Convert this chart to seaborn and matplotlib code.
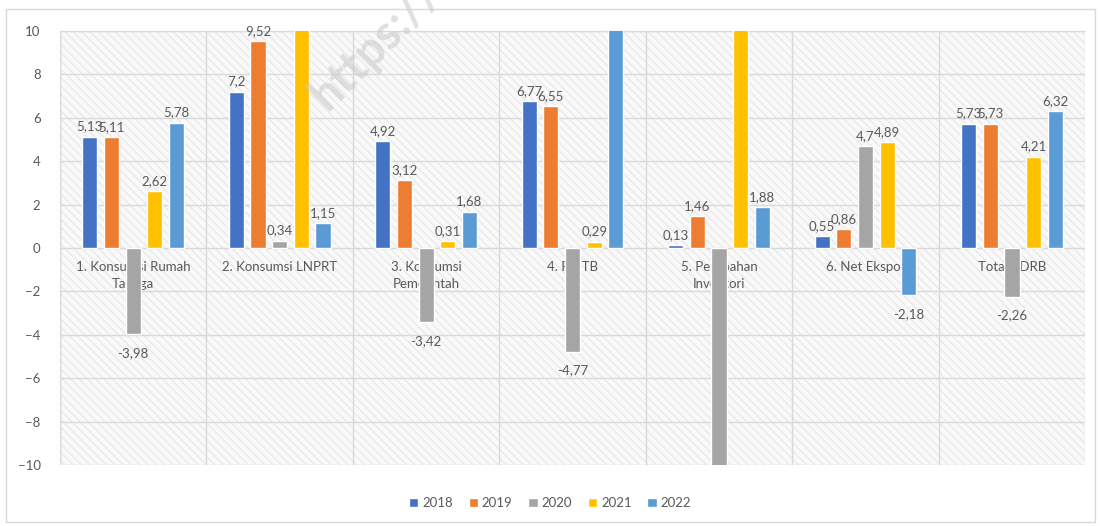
import matplotlib
matplotlib.use('Agg')
import matplotlib.pyplot as plt
from matplotlib.patches import Rectangle
import numpy as np
import pandas as pd
import seaborn as sns


CATEGORIES = ['1. Konsumsi Rumah\nTangga', '2. Konsumsi LNPRT',
              '3. Konsumsi\nPemerintah', '4. PMTB',
              '5. Perubahan\nInventori', '6. Net Ekspor', 'Total PDRB']
YEARS = ['2018', '2019', '2020', '2021', '2022']

# values per year (bars above 10 / below -10 are cut off in the source)
V2018 = [5.13, 7.2, 4.92, 6.77, 0.13, 0.55, 5.73]
V2019 = [5.11, 9.52, 3.12, 6.55, 1.46, 0.86, 5.73]
V2020 = [-3.98, 0.34, -3.42, -4.77, -14.0, 4.7, -2.26]
V2021 = [2.62, 12.5, 0.31, 0.29, 14.0, 4.89, 4.21]
V2022 = [5.78, 1.15, 1.68, 12.0, 1.88, -2.18, 6.32]

COLORS = ['#4472C4', '#ED7D31', '#A5A5A5', '#FFC000', '#5B9BD5']
TXT = '#595959'


def fmt(v):
    if abs(v) > 10:
        return ''
    return ('%g' % v).replace('.', ',')


if __name__ == '__main__':
    rows = []
    for year, vals in zip(YEARS, [V2018, V2019, V2020, V2021, V2022]):
        for cat, v in zip(CATEGORIES, vals):
            rows.append({'cat': cat, 'year': year, 'value': v})
    df = pd.DataFrame(rows)

    sns.set_style('white')
    plt.rcParams['font.family'] = ['Lato', 'DejaVu Sans']
    plt.rcParams['hatch.color'] = '#e6e6e6'
    plt.rcParams['hatch.linewidth'] = 0.8

    fig = plt.figure(figsize=(11, 5.26), dpi=100)
    ax = fig.add_axes([0.0545, 0.116, 0.932, 0.825])

    ax.add_patch(Rectangle((0, 0), 1, 1, transform=ax.transAxes,
                           facecolor='#f9f9f9', edgecolor='#e6e6e6',
                           hatch='\\\\\\\\', lw=0, zorder=0))

    sns.barplot(data=df, x='cat', y='value', hue='year', hue_order=YEARS,
                palette=COLORS, width=0.74, gap=0.3, saturation=1,
                ax=ax, zorder=3)

    for cont, year in zip(ax.containers, YEARS):
        vals = df[df.year == year]['value'].tolist()
        for bar, v in zip(cont, vals):
            if abs(v) > 10:
                continue
            x = bar.get_x() + bar.get_width() / 2
            if v >= 0:
                ax.annotate(fmt(v), (x, v), xytext=(0, 3),
                            textcoords='offset points', ha='center',
                            va='bottom', fontsize=9.5, color=TXT, zorder=5)
            else:
                ax.annotate(fmt(v), (x, v), xytext=(0, -9),
                            textcoords='offset points', ha='center',
                            va='top', fontsize=9.5, color=TXT, zorder=5)

    for i, cat in enumerate(CATEGORIES):
        ax.annotate(cat, (i, 0), xytext=(0, -9), textcoords='offset points',
                    ha='center', va='top', fontsize=9.5, color=TXT,
                    linespacing=1.55, zorder=2)

    ax.set_ylim(-10, 10)
    ax.set_xlim(-0.5, len(CATEGORIES) - 0.5)
    ax.set_yticks(np.arange(-10, 11, 2))
    ax.set_xticks([])
    ax.set_xticks(np.arange(-0.5, len(CATEGORIES), 1), minor=True)
    ax.grid(True, which='major', axis='y', color='#d9d9d9', lw=1, zorder=1)
    ax.grid(True, which='minor', axis='x', color='#d9d9d9', lw=1, zorder=1)
    ax.set_axisbelow(True)
    ax.tick_params(axis='y', length=0, labelsize=9.5, labelcolor=TXT, pad=14)
    ax.tick_params(axis='x', which='both', length=0)
    ax.set_xlabel('')
    ax.set_ylabel('')
    for s in ax.spines.values():
        s.set_visible(False)
    ax.spines['top'].set_visible(True)
    ax.spines['top'].set_color('#d9d9d9')

    sns.move_legend(ax, 'lower center', bbox_to_anchor=(0.5, 0.01),
                    bbox_transform=fig.transFigure, ncol=5, frameon=False,
                    title=None, fontsize=9.5, handlelength=0.7,
                    handleheight=0.7, handletextpad=0.3, columnspacing=1.2)
    for t in ax.get_legend().get_texts():
        t.set_color(TXT)

    fig.patches.append(Rectangle((0.005, 0.008), 0.99, 0.975,
                                 transform=fig.transFigure, fill=False,
                                 edgecolor='#d9d9d9', lw=1))
    fig.text(0.303, 0.775, 'https://', rotation=45, fontsize=34,
             fontweight='bold', color='#cccccc', alpha=0.6,
             ha='left', va='bottom', rotation_mode='anchor', zorder=10)

    plt.savefig('out.png', dpi=100)
